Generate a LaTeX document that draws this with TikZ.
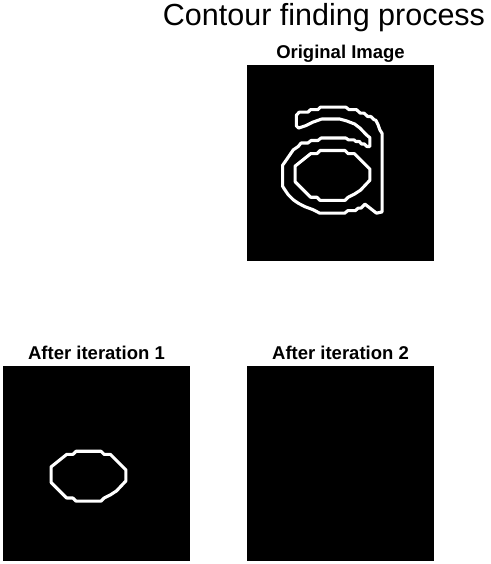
\documentclass[tikz,border=0pt]{standalone}
\usepackage{fontspec}
\setmainfont{Liberation Sans}
\usetikzlibrary{positioning}

% the hole of the letter, in pixels of the image
\newcommand{\holeloop}{(20.5,28.5) -- (22.5,28.5) -- (23.5,27.5) -- (31.5,27.5)
    -- (32.5,28.5) -- (34.5,28.5) -- (39.5,33.5) -- (39.5,37) -- (36.5,40.2)
    -- (34.5,41.5) -- (32.5,42.5) -- (31.5,43.5) -- (23.5,43.5) -- (22.5,42.5)
    -- (20.5,42.5) -- (15.5,37.5) -- (15.5,32.5) -- cycle}

\begin{document}
\begin{tikzpicture}[
        x=1pt, y=-1pt,
        panel/.style={rectangle, fill=black, draw=none, inner sep=0pt,
                      minimum width=187pt, minimum height=195.5pt},
        paneltitle/.style={anchor=base, inner sep=0pt,
                           font=\fontsize{18.5}{22}\selectfont\bfseries},
        contour/.style={draw=white, line width=3.1pt, line join=bevel},
    ]
    \useasboundingbox (0,0) rectangle (490,564);

    % title
    \node[anchor=base, inner sep=0pt, font=\fontsize{30.5}{36}\selectfont]
        (title) at (324,26) {Contour finding process};

    % panels
    \node[panel] (orig) at (340.5,162.75) {};
    \node[panel] (iterA) at (96.5,463.5) {};
    \node[panel] (iterB) at (340.5,463.5) {};

    \node[paneltitle] (origtitle) at (340.5,58.3) {Original Image};
    \node[paneltitle] (iterAtitle) at (96.5,359) {After iteration 1};
    \node[paneltitle] (iterBtitle) at (340.5,359) {After iteration 2};

    % original image: outer contour and hole
    \begin{scope}[shift={(orig.north west)}, x=3.117pt, y=-3.117pt]
        \draw[contour] (15.9,19.6) -- (15.9,16.2) -- (16.8,15.2) -- (19.6,15.2)
            -- (20.4,14.4) -- (22.8,14.4) -- (23.6,13.6) -- (31.8,13.6)
            -- (32.8,14.4) -- (35.2,14.4) -- (36.4,15.5) -- (37.6,15.5)
            -- (38.8,16.6) -- (39.8,16.6) -- (40.8,17.6) -- (41.4,17.8)
            -- (42.1,19.2) -- (42.7,20.9) -- (43.4,22) -- (43.4,47.2)
            -- (41.6,47.6) -- (37.9,44.7) -- (36.6,46) -- (35.7,46)
            -- (34.8,46.8) -- (32.4,46.8) -- (31.4,47.6) -- (23.4,47.6)
            -- (21.3,46.5) -- (18.6,45.5) -- (16.5,44.4) -- (14.9,43.3)
            -- (13.3,41.7) -- (12.2,40.1) -- (11.5,39) -- (11.5,32.2)
            -- (12.7,30.5) -- (13.8,28.9) -- (14.9,27.3) -- (16.5,26.2)
            -- (17.4,25.1) -- (19.6,25.1) -- (20.6,24.3) -- (22.8,24.3)
            -- (23.8,23.5) -- (31.8,23.5) -- (32.6,24.1) -- (34.4,24.1)
            -- (35,24.6) -- (36.1,24.6) -- (36.8,25.4) -- (37.7,25.4)
            -- (38.5,26.2) -- (39.5,26.2) -- (39.5,23.4) -- (38.4,22.5)
            -- (36.3,20.3) -- (34.6,19) -- (32,18) -- (29.8,17.4)
            -- (24,17.4) -- (21.2,18.4) -- (19,19.5) -- (16.6,20.3) -- cycle;
        \draw[contour] \holeloop;
    \end{scope}

    % after iteration 1: only the hole is left
    \begin{scope}[shift={(iterA.north west)}, x=3.117pt, y=-3.117pt]
        \draw[contour] \holeloop;
    \end{scope}

\end{tikzpicture}
\end{document}
